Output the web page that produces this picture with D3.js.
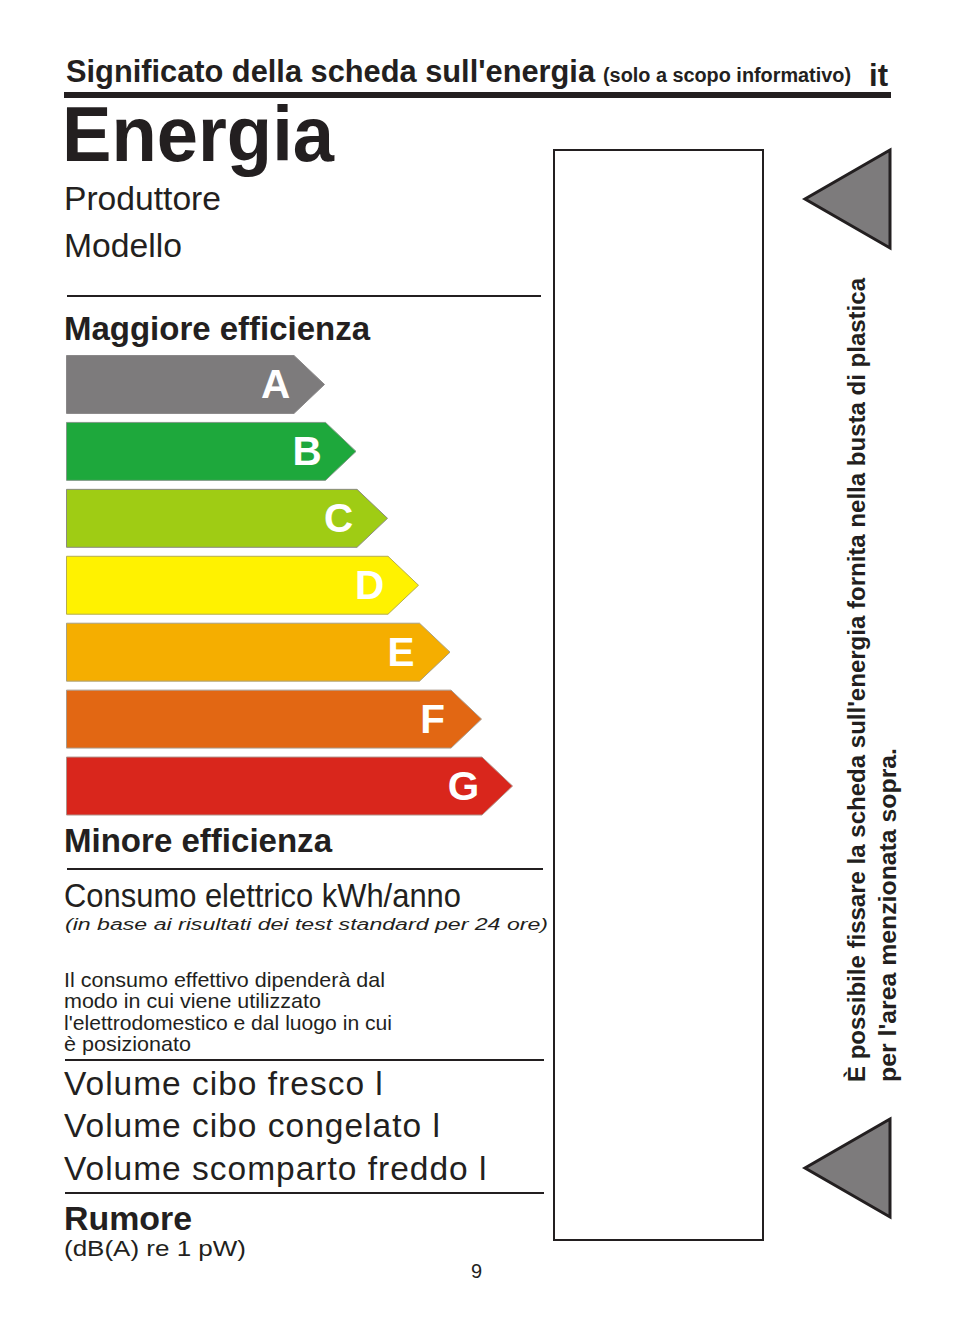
<!DOCTYPE html>
<html>
<head>
<meta charset="utf-8">
<script src="https://cdn.jsdelivr.net/npm/d3@7"></script>
<style>
html, body { margin: 0; padding: 0; background: #fff; }
svg { display: block; }
text { font-family: "Liberation Sans", Arial, sans-serif; fill: #231f20; }
</style>
</head>
<body>
<svg id="chart" width="954" height="1336"></svg>
<script>
// energy classes, top to bottom
let classes = ["A", "B", "C", "D", "E", "F", "G"];
let classLengths = [258, 289.5, 321, 352, 383.5, 415, 446];   // in px of the scale below
let classColors = ["#7d7b7c", "#1ea83c", "#9fcc14", "#fff200", "#f5ae00", "#e26713", "#d9261c"];
let classEdges = ["#8a8889", "#7f9a86", "#8a8a80", "#b5ad50", "#a8a080", "#a89a8c", "#b09088"];

let noteLines = ["Il consumo effettivo dipenderà dal", "modo in cui viene utilizzato",
    "l'elettrodomestico e dal luogo in cui", "è posizionato"];
let noteLengths = [321, 257, 328, 127];
let volumeLines = ["Volume cibo fresco l", "Volume cibo congelato l", "Volume scomparto freddo l"];
let sideLines = ["È possibile fissare la scheda sull'energia fornita nella busta di plastica",
    "per l'area menzionata sopra."];
let sideLengths = [804, 334];

let svg = d3.select("#chart");

let xScale = d3.scaleLinear().domain([0, 500]).range([66.5, 566.5]);
let yScale = d3.scaleBand().domain(classes).range([355.5, 815]).paddingInner(9 / 67).paddingOuter(0);
let tip = 30.5;

function label(x, y, str, size, opts) {
    opts = opts || {};
    let t = svg.append("text").attr("x", x).attr("y", y).attr("font-size", size).text(str);
    if (opts.bold) t.attr("font-weight", "bold");
    if (opts.italic) t.attr("font-style", "italic");
    if (opts.width) t.attr("textLength", opts.width).attr("lengthAdjust", "spacingAndGlyphs");
    return t;
}

function hline(x1, x2, y, w) {
    svg.append("line").attr("x1", x1).attr("x2", x2).attr("y1", y).attr("y2", y)
        .attr("stroke", "#231f20").attr("stroke-width", w);
}

// header
label(66, 82, "Significato della scheda sull'energia", 31.5, {bold: true, width: 529});
label(603, 82, "(solo a scopo informativo)", 20, {bold: true, width: 248});
label(869, 86, "it", 31.5, {bold: true, width: 19});
hline(64, 891, 95, 6);
label(62, 160.5, "Energia", 77, {bold: true, width: 272});
label(64, 210, "Produttore", 33.5, {width: 157});
label(64, 257, "Modello", 33.5, {width: 118});
hline(67, 541, 296, 2);
label(64, 340, "Maggiore efficienza", 33.5, {bold: true, width: 306});

// class arrows
let bars = svg.append("g").selectAll("g").data(classes).enter().append("g");
bars.append("path")
    .attr("d", (d, i) => {
        let x0 = xScale(0), x1 = xScale(classLengths[i]) - tip, xt = xScale(classLengths[i]);
        let y0 = yScale(d), h = yScale.bandwidth();
        return d3.line()([[x0, y0], [x1, y0], [xt, y0 + h / 2], [x1, y0 + h], [x0, y0 + h]]) + "Z";
    })
    .attr("fill", (d, i) => classColors[i])
    .attr("stroke", (d, i) => classEdges[i])
    .attr("stroke-width", 1);
bars.append("text")
    .attr("x", (d, i) => xScale(classLengths[i]) - tip - 18.5)
    .attr("y", d => yScale(d) + 42.5)
    .attr("text-anchor", "middle")
    .attr("font-size", 40.5)
    .attr("font-weight", "bold")
    .style("fill", "#fff")
    .text(d => d);

// lower labels
label(64, 852, "Minore efficienza", 33.5, {bold: true, width: 268});
hline(67, 543, 869, 2);
label(64, 907, "Consumo elettrico kWh/anno", 33.5, {width: 397});
label(65, 930, "(in base ai risultati dei test standard per 24 ore)", 16, {italic: true, width: 483});

svg.append("g").selectAll("text").data(noteLines).enter().append("text")
    .attr("x", 64).attr("y", (d, i) => 987 + i * 21.3)
    .attr("font-size", 21)
    .attr("textLength", (d, i) => noteLengths[i]).attr("lengthAdjust", "spacingAndGlyphs")
    .text(d => d);

hline(65, 544, 1060, 2);
svg.append("g").selectAll("text").data(volumeLines).enter().append("text")
    .attr("x", 64).attr("y", (d, i) => 1095 + i * 42.4)
    .attr("font-size", 33.5).attr("letter-spacing", 1).text(d => d);
hline(65, 544, 1193, 2);
label(64, 1229.5, "Rumore", 33.5, {bold: true, width: 128});
label(64, 1256, "(dB(A) re 1 pW)", 22, {width: 182});
label(471, 1278, "9", 20);

// empty box on the right
svg.append("rect").attr("x", 554).attr("y", 150).attr("width", 209).attr("height", 1090)
    .attr("fill", "none").attr("stroke", "#231f20").attr("stroke-width", 2);

// triangles
function triangle(yTop, yBot) {
    let mid = (yTop + yBot) / 2;
    svg.append("path")
        .attr("d", d3.line()([[890, yTop], [805, mid], [890, yBot]]) + "Z")
        .attr("fill", "#7d7b7c").attr("stroke", "#231f20").attr("stroke-width", 3);
}
triangle(150, 248);
triangle(1119, 1217);

// rotated note
svg.append("g").selectAll("text").data(sideLines).enter().append("text")
    .attr("transform", (d, i) => "translate(" + (865 + i * 31) + ",1082) rotate(-90)")
    .attr("font-size", 24.5).attr("font-weight", "bold")
    .attr("textLength", (d, i) => sideLengths[i]).attr("lengthAdjust", "spacingAndGlyphs")
    .text(d => d);
</script>
</body>
</html>
